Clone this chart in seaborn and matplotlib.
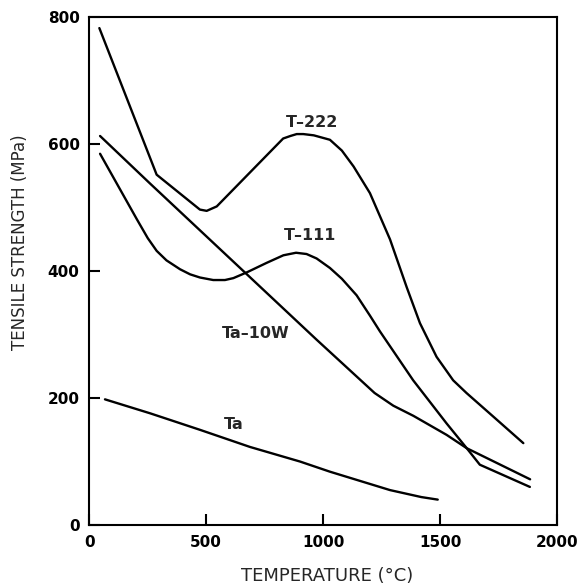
import matplotlib
matplotlib.use("Agg")
import matplotlib.pyplot as plt
import seaborn as sns
import pandas as pd

# ---- data ----
t222_x = [43, 288, 473, 502, 545, 829, 860, 887, 915, 960, 1029, 1080, 1130, 1200, 1286, 1357, 1414, 1485, 1556, 1613, 1727, 1856]
t222_y = [783, 552, 497, 495, 502, 609, 613, 616, 616, 614, 607, 590, 565, 523, 450, 375, 318, 265, 228, 208, 171, 129]

t111_x = [46, 203, 250, 288, 330, 388, 431, 473, 530, 580, 616, 673, 758, 830, 884, 929, 972, 1029, 1080, 1143, 1200, 1243, 1385, 1528, 1614, 1670, 1884]
t111_y = [585, 482, 452, 432, 417, 403, 395, 390, 386, 386, 389, 398, 413, 425, 429, 427, 420, 405, 388, 362, 330, 305, 228, 160, 121, 95, 60]

ta10w_x = [46, 260, 972, 1220, 1300, 1386, 1528, 1614, 1885]
ta10w_y = [613, 538, 292, 208, 188, 172, 142, 121, 72]

ta_x = [67, 260, 473, 687, 901, 1029, 1286, 1420, 1490]
ta_y = [198, 176, 150, 123, 100, 84, 55, 44, 40]

series_names = ["T–222", "T–111", "Ta–10W", "Ta"]
label_x = [952, 946, 713, 619]
label_y = [635, 456, 302, 158]

x_ticks = [0, 500, 1000, 1500, 2000]
y_ticks = [0, 200, 400, 600, 800]

frames = []
for name, xs, ys in zip(series_names, [t222_x, t111_x, ta10w_x, ta_x], [t222_y, t111_y, ta10w_y, ta_y]):
    frames.append(pd.DataFrame({"T": xs, "S": ys, "alloy": name, "order": range(len(xs))}))
df = pd.concat(frames, ignore_index=True)

sns.set_style("ticks")
plt.rcParams["font.family"] = ["DejaVu Sans"]

fig = plt.figure(figsize=(5.79, 5.87), dpi=100)
ax = fig.add_axes([89.3 / 579, 62 / 587, 467.7 / 579, 507.7 / 587])

sns.lineplot(data=df, x="T", y="S", hue="alloy", units="alloy", estimator=None, sort=False,
             palette={n: "black" for n in series_names}, linewidth=1.7, legend=False, ax=ax)
for ln in ax.get_lines():
    ln.set_solid_joinstyle("round")
    ln.set_solid_capstyle("round")

ax.set_xlim(0, 2000)
ax.set_ylim(0, 800)
ax.set_xticks(x_ticks)
ax.set_yticks(y_ticks)
ax.set_xticklabels([str(v) for v in x_ticks], fontsize=11, fontweight="bold")
ax.set_yticklabels([str(v) for v in y_ticks], fontsize=11, fontweight="bold")
ax.tick_params(direction="in", length=8, width=1.5, pad=7, colors="black")
ax.tick_params(top=False, right=False)
for s in ax.spines.values():
    s.set_visible(True)
    s.set_linewidth(1.5)
    s.set_color("black")

ax.set_xlabel("TEMPERATURE (°C)", fontsize=13, va="center")
ax.xaxis.set_label_coords(0.509, -0.100)
ax.set_ylabel("TENSILE STRENGTH (MPa)", fontsize=12, va="center")
ax.yaxis.set_label_coords(-0.148, 0.557)

for name, lx, ly in zip(series_names, label_x, label_y):
    ax.text(lx, ly, name, fontsize=11.5, fontweight="bold", ha="center", va="center")

fig.savefig("out.png", dpi=100)
